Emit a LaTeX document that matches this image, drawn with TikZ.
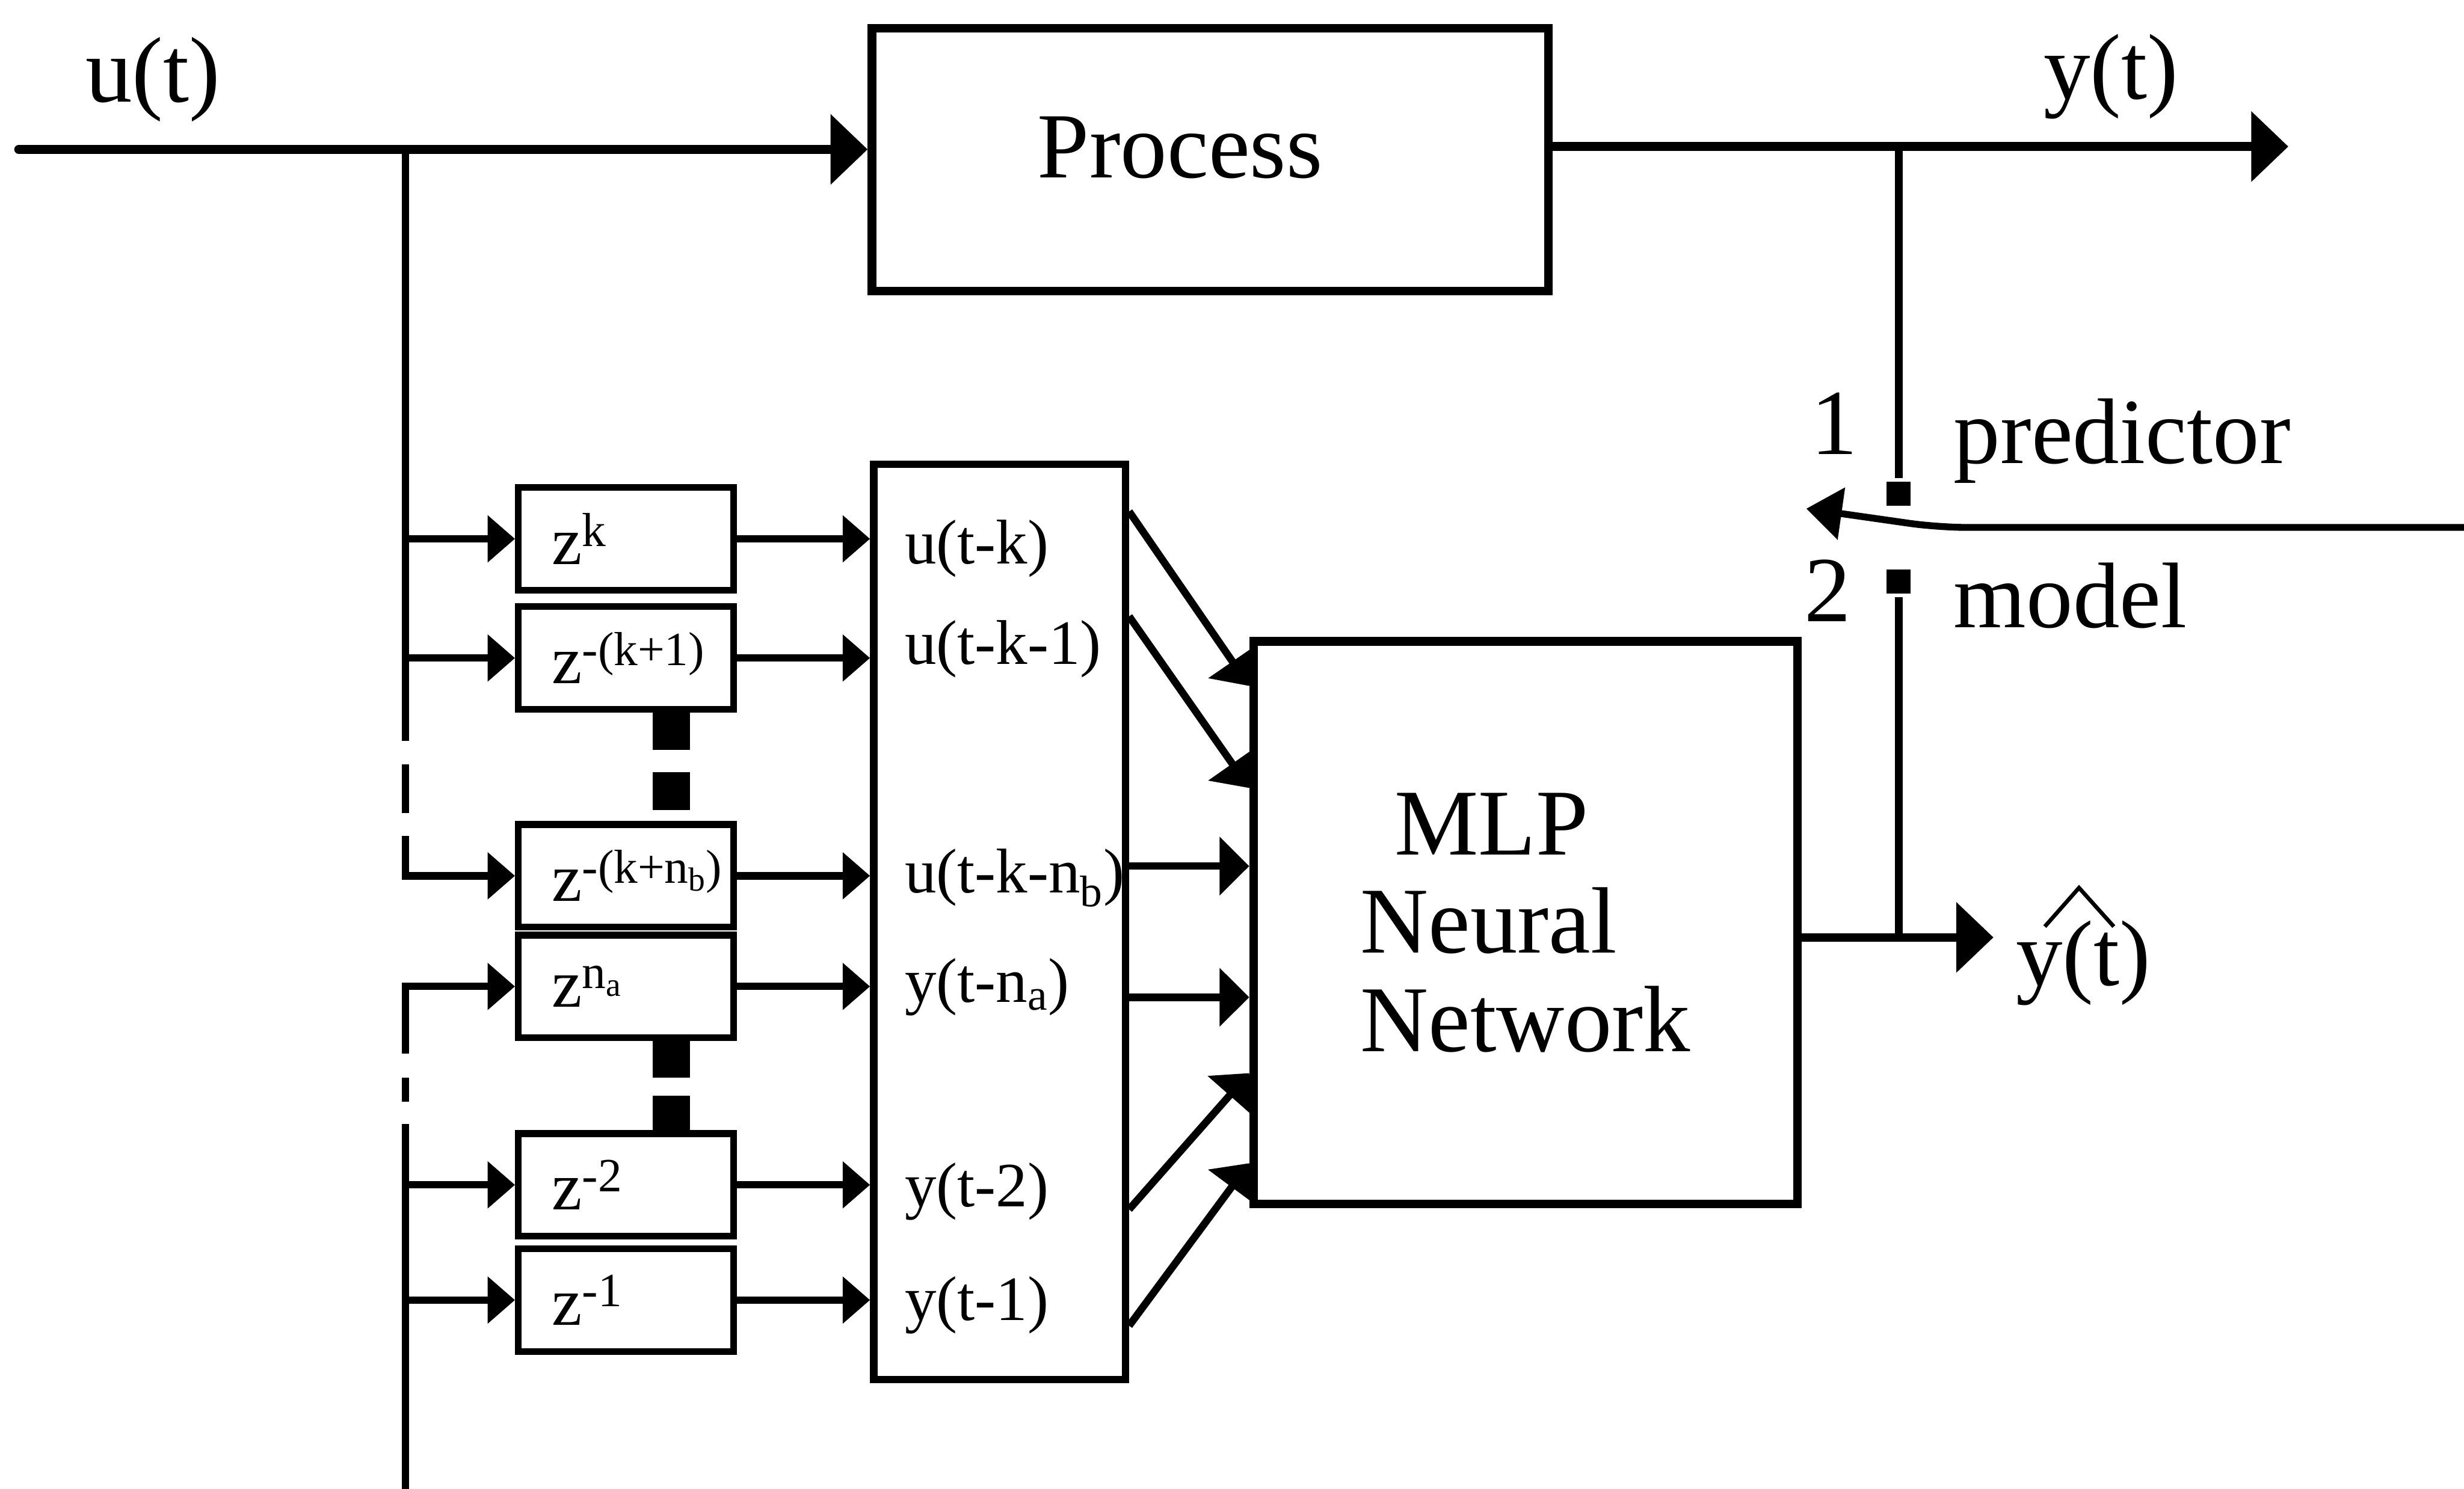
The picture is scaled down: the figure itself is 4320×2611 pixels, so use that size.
\documentclass[tikz,border=0pt]{standalone}
\usepackage{fontspec}
\setmainfont{Liberation Serif}
\usetikzlibrary{arrows.meta,calc}
\tikzset{
  blk/.style={draw, line width=0.15cm, inner sep=0},
  dly/.style={draw, line width=0.12cm, minimum width=3.77cm, minimum height=1.8cm,
    text width=2.6cm, align=left, inner xsep=0.55cm, inner ysep=0,
    font=\fontsize{34}{36}\selectfont},
  lbl/.style={inner sep=0, font=\fontsize{46.5}{50}\selectfont},
  slbl/.style={inner sep=0, anchor=base west, font=\fontsize{31.5}{34}\selectfont},
  bigarr/.style={-{Triangle[length=0.65cm,width=1.2cm]}},
  midarr/.style={-{Triangle[length=0.52cm,width=1.0cm]}},
  swarr/.style={-{Triangle[length=0.62cm,width=0.9cm]}},
  smallarr/.style={-{Triangle[length=0.48cm,width=0.8cm]}},
  contact/.style={fill, inner sep=0, minimum size=0.42cm},
}
\begin{document}
\begin{tikzpicture}[x=0.01cm, y=-0.01cm, line width=0.13cm]
\fill[white] (0,0) rectangle (4320,2611);
\useasboundingbox (0,0) rectangle (4320,2611);

% main blocks
\node[blk, minimum width=11.85cm, minimum height=4.6cm] (proc) at (2121.5,280) {};
\node[lbl] (proctext) at (2069,259) {Process};
\node[blk, minimum width=9.53cm, minimum height=9.86cm, align=left,
      font=\fontsize{47}{49}\selectfont] (mlp) at (2674.5,1618)
      {\hspace*{0.6cm}MLP\\Neural\\Network};
\node[draw, line width=0.13cm, minimum width=4.41cm, minimum height=16.04cm, inner sep=0]
      (inbox) at (1752.5,1617) {};

% delay boxes
\node[dly] (d1) at (1097.5,945) {z\textsuperscript{k}};
\node[dly] (d2) at (1097.5,1154) {z\textsuperscript{-(k+1)}};
\node[dly] (d3) at (1097.5,1536) {z\textsuperscript{-(k+n\textsubscript{b})}};
\node[dly] (d4) at (1097.5,1730) {z\textsuperscript{n\textsubscript{a}}};
\node[dly] (d5) at (1097.5,2078) {z\textsuperscript{-2}};
\node[dly] (d6) at (1097.5,2280) {z\textsuperscript{-1}};

% dots between delay boxes
\fill (1144,1248) rectangle (1210,1315);
\fill (1144,1354) rectangle (1210,1421);
\fill (1144,1822) rectangle (1210,1890);
\fill (1144,1922) rectangle (1210,1987);

% labels inside the input box
\node[slbl] (l1) at (1580,989) {u(t-k)};
\node[slbl] (l2) at (1580,1165) {u(t-k-1)};
\node[slbl] (l3) at (1580,1566) {u(t-k-n\textsubscript{b})};
\node[slbl] (l4) at (1580,1758) {y(t-n\textsubscript{a})};
\node[slbl] (l5) at (1580,2116) {y(t-2)};
\node[slbl] (l6) at (1580,2316) {y(t-1)};

% signal labels
\node[lbl, anchor=base] (ut) at (268,179) {u(t)};
\node[lbl, anchor=base] (yt) at (3701,174) {y(t)};
\node[lbl, anchor=base] (n1) at (3216,797) {1};
\node[lbl, anchor=base] (n2) at (3204,1090) {2};
\node[lbl, anchor=base west] (pred) at (3419,813) {predictor};
\node[lbl, anchor=base west] (model) at (3419,1101) {model};
\node[lbl, anchor=base west] (yhat) at (3528,1728) {y(t)};
% the hat over y(t)
\draw[line width=0.07cm, line join=miter]
  ($(yhat.base west)+(57,-103)$) -- ($(yhat.base west)+(117,-171)$)
  -- ($(yhat.base west)+(178,-103)$);

% coordinates
\coordinate (uin) at (33,262);
\coordinate (uj) at (711,262);
\coordinate (ul) at (711,0);
\coordinate (yj) at (3329,257);
\coordinate (yend) at (4012,257);
\coordinate (yhj) at (3329,1644);
\coordinate (yhend) at (3495,1644);
\coordinate (swr) at (4320,925);
\coordinate (swk) at (3398,925);
\coordinate (swt) at (3167,892);

% process input / output
\draw[line width=0.16cm, line cap=round, bigarr] (uin) -- (uin -| proc.west);
\draw[line width=0.16cm, bigarr] (proc.east |- yend) -- (yend);

% u branch (with breaks)
\draw (uj) -- (711,1299);
\draw (711,1340) -- (711,1426);
\draw[smallarr] (711,1466) |- (d3.west);
\draw[smallarr] (d1.west -| ul) -- (d1.west);
\draw[smallarr] (d2.west -| ul) -- (d2.west);

% y branch (with breaks)
\draw[smallarr] (711,1848) |- (d4.west);
\draw (711,1890) -- (711,1932);
\draw (711,2611) -- (711,1971);
\draw[smallarr] (d5.west -| ul) -- (d5.west);
\draw[smallarr] (d6.west -| ul) -- (d6.west);

% delay to input box
\foreach \d in {d1,d2,d3,d4,d5,d6}
  \draw[smallarr] (\d.east) -- (\d.east -| inbox.west);

% input box to MLP
\draw[midarr] (inbox.east |- 0,897) -- (mlp.west |- 0,1203);
\draw[midarr] (inbox.east |- 0,1081) -- (mlp.west |- 0,1382);
\draw[midarr] (inbox.east |- 0,1519) -- (mlp.west |- 0,1519);
\draw[midarr] (inbox.east |- 0,1749) -- (mlp.west |- 0,1749);
\draw[midarr] (inbox.east |- 0,2121) -- (mlp.west |- 0,1882);
\draw[midarr] (inbox.east |- 0,2325) -- (mlp.west |- 0,2040);

% switch
\node[contact] (c1) at (3329,866) {};
\node[contact] (c2) at (3329,1020) {};
\draw (yj) -- (c1);
\draw (c2) -- (yhj);
\draw[line width=0.15cm, bigarr] (mlp.east |- yhend) -- (yhend);
\draw[line width=0.12cm, swarr, rounded corners=0.5cm] (swr) -- (swk) -- (swt);
\end{tikzpicture}
\end{document}
